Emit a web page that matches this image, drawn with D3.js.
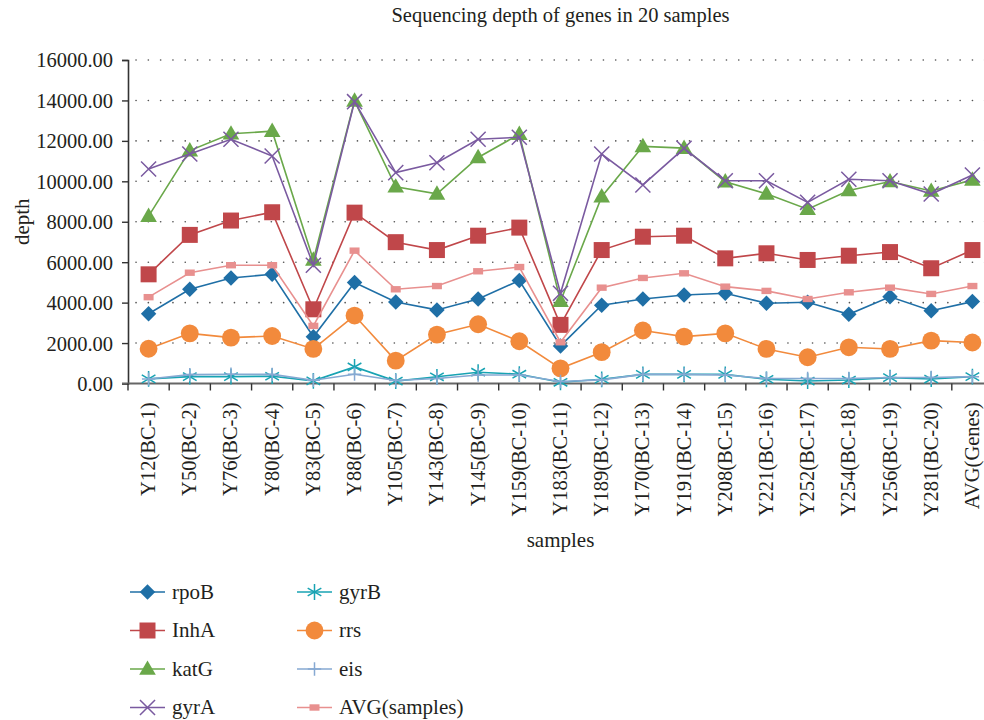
<!DOCTYPE html>
<html>
<head>
<meta charset="utf-8">
<script src="https://cdn.jsdelivr.net/npm/d3@7"></script>
<style>
  body { margin: 0; background: #fff; }
  text { font-family: "Liberation Serif", "DejaVu Serif", serif; fill: #231f20; }
</style>
</head>
<body>
<div id="chart"></div>
<script>
// sample names (x categories)
const samples = ["Y12(BC-1)", "Y50(BC-2)", "Y76(BC-3)", "Y80(BC-4)", "Y83(BC-5)", "Y88(BC-6)",
    "Y105(BC-7)", "Y143(BC-8)", "Y145(BC-9)", "Y159(BC-10)", "Y183(BC-11)", "Y189(BC-12)",
    "Y170(BC-13)", "Y191(BC-14)", "Y208(BC-15)", "Y221(BC-16)", "Y252(BC-17)", "Y254(BC-18)",
    "Y256(BC-19)", "Y281(BC-20)", "AVG(Genes)"];

const yTicks = [0, 2000, 4000, 6000, 8000, 10000, 12000, 14000, 16000];

// depth per gene
const rpoB = [3450, 4660, 5220, 5400, 2310, 5000, 4030, 3640, 4180, 5090, 1860, 3870, 4180, 4380, 4460, 3970, 4020, 3420, 4290, 3600, 4050];
const inhA = [5400, 7350, 8060, 8470, 3670, 8450, 6990, 6600, 7310, 7710, 2900, 6600, 7260, 7310, 6190, 6440, 6110, 6320, 6500, 5700, 6600];
const katG = [8280, 11520, 12350, 12480, 6110, 13980, 9730, 9380, 11180, 12330, 4070, 9240, 11730, 11640, 9980, 9380, 8620, 9550, 9990, 9520, 10070];
const gyrA = [10610, 11350, 12080, 11250, 5850, 13940, 10430, 10920, 12080, 12180, 4460, 11350, 9820, 11630, 10030, 10030, 8960, 10100, 10030, 9370, 10310];
const gyrB = [230, 340, 340, 360, 130, 820, 120, 330, 560, 460, 60, 210, 450, 450, 450, 210, 120, 170, 290, 220, 340];
const rrs = [1720, 2480, 2270, 2350, 1710, 3360, 1130, 2420, 2930, 2090, 750, 1550, 2620, 2320, 2480, 1710, 1300, 1790, 1710, 2120, 2030];
const eis = [220, 440, 460, 450, 160, 460, 150, 250, 420, 420, 100, 180, 450, 450, 420, 250, 250, 250, 300, 300, 340];
const avgSamples = [4270, 5480, 5850, 5850, 2850, 6570, 4660, 4820, 5550, 5760, 2040, 4740, 5220, 5450, 4790, 4580, 4180, 4510, 4740, 4430, 4820];

const series = [
    {name: "rpoB", values: rpoB, color: "#1f6fa6", marker: "diamond"},
    {name: "InhA", values: inhA, color: "#c0474a", marker: "square"},
    {name: "katG", values: katG, color: "#6aa84a", marker: "triangle"},
    {name: "gyrA", values: gyrA, color: "#7a5aa0", marker: "times"},
    {name: "gyrB", values: gyrB, color: "#18a3b3", marker: "asterisk"},
    {name: "rrs", values: rrs, color: "#f28a3c", marker: "circle"},
    {name: "eis", values: eis, color: "#86a9d2", marker: "plus"},
    {name: "AVG(samples)", values: avgSamples, color: "#e8908f", marker: "rect"}
];

const width = 984, height = 720;
const margin = {left: 128, right: 993, top: 60, bottom: 383.5};
const fontSize = "20.5px";

let svg = d3.select("#chart")
    .append("svg")
    .attr("width", width)
    .attr("height", height);

let x = d3.scaleBand()
    .domain(samples)
    .range([margin.left, margin.right])
    .padding(0);

let y = d3.scaleLinear()
    .domain([0, 16000])
    .range([margin.bottom, margin.top]);

// dotted gridlines
svg.append("g")
    .selectAll("line")
    .data(yTicks.filter(d => d > 0))
    .enter()
    .append("line")
    .attr("x1", margin.left + 8)
    .attr("x2", margin.right)
    .attr("y1", d => y(d))
    .attr("y2", d => y(d))
    .attr("stroke", "#555")
    .attr("stroke-width", 1.6)
    .attr("stroke-linecap", "round")
    .attr("stroke-dasharray", "0.1 12.2");

// y axis
let yAxis = svg.append("g")
    .attr("transform", `translate(${margin.left}, 0)`)
    .call(d3.axisLeft(y).tickValues(yTicks).tickSize(6).tickPadding(9).tickFormat(d3.format(".2f")));
yAxis.select(".domain").attr("stroke", "#333").attr("stroke-width", 1.6);
yAxis.selectAll(".tick line").attr("stroke", "#333").attr("stroke-width", 1.4);
yAxis.selectAll("text")
    .style("font-family", "Liberation Serif, serif")
    .style("font-size", fontSize)
    .attr("fill", "#231f20")
    .attr("dy", "0.34em");

// x axis: ticks between categories
let xg = svg.append("g");
xg.append("line")
    .attr("x1", margin.left - 6)
    .attr("x2", margin.right)
    .attr("y1", y(0))
    .attr("y2", y(0))
    .attr("stroke", "#666")
    .attr("stroke-width", 2.2);
let bounds = samples.map(d => x(d)).concat([x(samples[samples.length - 1]) + x.bandwidth()]);
xg.selectAll(".xtick")
    .data(bounds)
    .enter()
    .append("line")
    .attr("class", "xtick")
    .attr("x1", d => d)
    .attr("x2", d => d)
    .attr("y1", y(0))
    .attr("y2", y(0) + 7)
    .attr("stroke", "#333")
    .attr("stroke-width", 1.4);
xg.selectAll(".xlabel")
    .data(samples)
    .enter()
    .append("text")
    .attr("class", "xlabel")
    .attr("transform", d => `translate(${x(d) + x.bandwidth() / 2 + 6.5}, ${y(0) + 19}) rotate(-90)`)
    .style("text-anchor", "end")
    .style("font-size", fontSize)
    .text(d => d);

// markers
function markerPath(type) {
    switch (type) {
        case "diamond": return d3.symbol(d3.symbolSquare, 120)();
        case "square": return d3.symbol(d3.symbolSquare, 256)();
        case "triangle": return d3.symbol(d3.symbolTriangle, 120)();
        case "times": return d3.symbol(d3.symbolTimes, 150)();
        case "asterisk": return d3.symbol(d3.symbolAsterisk, 175)();
        case "circle": return d3.symbol(d3.symbolCircle, 250)();
        case "plus": return d3.symbol(d3.symbolPlus, 60)();
        default: return "M-5,-3.2H5V3.2H-5Z";
    }
}
function drawMarker(g, s) {
    let stroked = ["times", "asterisk", "plus"].includes(s.marker);
    let p = g.append("path")
        .attr("d", markerPath(s.marker));
    if (stroked) {
        p.attr("fill", "none").attr("stroke", s.color).attr("stroke-width", 1.5);
    } else {
        p.attr("fill", s.color);
    }
    if (s.marker === "diamond") p.attr("transform", "rotate(45)");
    if (s.marker === "triangle") p.attr("transform", "translate(0,1)");
    return p;
}

let line = d3.line()
    .x((d, i) => x(samples[i]) + x.bandwidth() / 2)
    .y(d => y(d));

series.forEach(function(s) {
    let g = svg.append("g");
    g.append("path")
        .datum(s.values)
        .attr("fill", "none")
        .attr("stroke", s.color)
        .attr("stroke-width", 1.6)
        .attr("d", line);
    s.values.forEach(function(v, i) {
        let m = g.append("g")
            .attr("transform", `translate(${x(samples[i]) + x.bandwidth() / 2}, ${y(v)})`);
        drawMarker(m, s);
    });
});

// title and axis labels
svg.append("text")
    .attr("x", (margin.left + margin.right) / 2)
    .attr("y", 22)
    .style("text-anchor", "middle")
    .style("font-size", "20.5px")
    .text("Sequencing depth of genes in 20 samples");

svg.append("text")
    .attr("transform", `translate(29, ${(margin.top + margin.bottom) / 2}) rotate(-90)`)
    .style("text-anchor", "middle")
    .style("font-size", "21px")
    .text("depth");

svg.append("text")
    .attr("x", (margin.left + margin.right) / 2)
    .attr("y", 547)
    .style("text-anchor", "middle")
    .style("font-size", "21px")
    .text("samples");

// legend, two columns of four
let legend = svg.append("g");
series.forEach(function(s, i) {
    let col = Math.floor(i / 4), row = i % 4;
    let lg = legend.append("g")
        .attr("transform", `translate(${130 + col * 167}, ${592 + row * 38.5})`);
    lg.append("line")
        .attr("x1", 0).attr("x2", 35)
        .attr("stroke", s.color)
        .attr("stroke-width", 1.6);
    let m = lg.append("g").attr("transform", "translate(17.5, 0)");
    drawMarker(m, s);
    lg.append("text")
        .attr("x", 42)
        .attr("dy", "0.32em")
        .style("font-size", "21px")
        .text(s.name);
});
</script>
</body>
</html>
